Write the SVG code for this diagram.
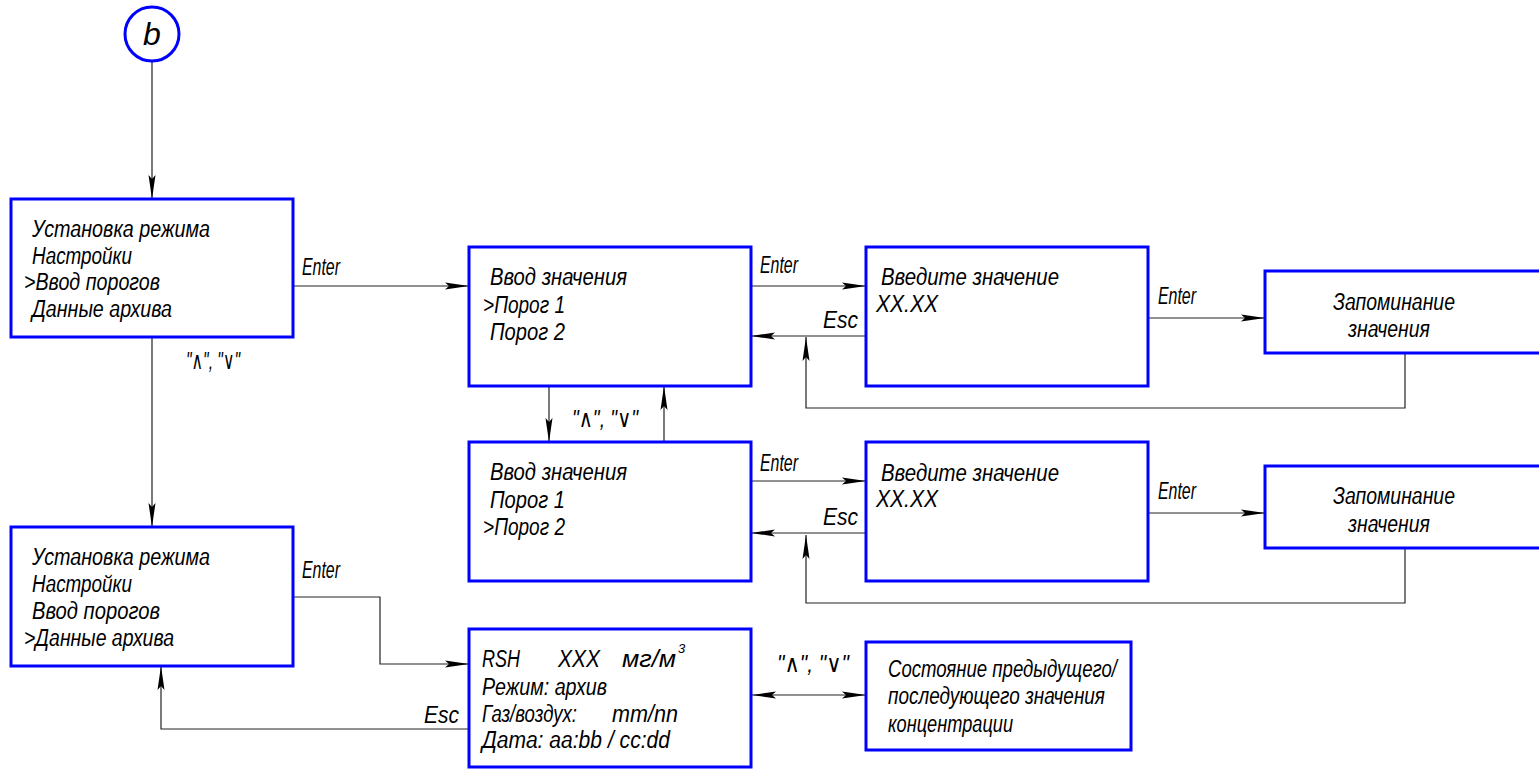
<svg xmlns="http://www.w3.org/2000/svg" width="1539" height="772" viewBox="0 0 1539 772">
<style>
.box{fill:#fff;stroke:#0000ff;stroke-width:3}
.ln{fill:none;stroke:#222;stroke-width:1.2}
.arr{marker-end:url(#ah)}
text{font-family:"Liberation Sans","DejaVu Sans",sans-serif;font-style:italic;font-size:23px;fill:#000}
.lbl{font-size:24px}
.mid{text-anchor:middle}
.end{text-anchor:end}
</style>
<defs>
<marker id="ah" markerUnits="userSpaceOnUse" markerWidth="26" markerHeight="10" viewBox="-26 -5 26 10" refX="0" refY="0" orient="auto-start-reverse">
<path d="M0,0 L-24,-3.5 L-20,0 L-24,3.5 Z" fill="#000"/>
</marker>
</defs>
<rect width="1539" height="772" fill="#fff"/>

<g id="connectors">
<path class="ln arr" d="M152,61 V199"/>
<path class="ln arr" d="M152,337 V527"/>
<text class="lbl" x="186" y="369" textLength="54" lengthAdjust="spacingAndGlyphs">"∧", "∨"</text>
<path class="ln arr" d="M293,286 H469"/>
<text class="lbl" x="302" y="275" textLength="38" lengthAdjust="spacingAndGlyphs">Enter</text>
<path class="ln arr" d="M751,286 H866"/>
<text class="lbl" x="760" y="273" textLength="38" lengthAdjust="spacingAndGlyphs">Enter</text>
<path class="ln arr" d="M866,336 H751"/>
<text class="lbl" x="823" y="328" textLength="35" lengthAdjust="spacingAndGlyphs">Esc</text>
<path class="ln arr" d="M1148,318 H1265"/>
<text class="lbl" x="1158" y="304" textLength="38" lengthAdjust="spacingAndGlyphs">Enter</text>
<path class="ln arr" d="M1405,353 V408 H806 V337"/>
<path class="ln arr" d="M549,386 V442"/>
<path class="ln arr" d="M664,442 V386"/>
<text class="lbl" x="572" y="427" textLength="66" lengthAdjust="spacingAndGlyphs">"∧", "∨"</text>
<path class="ln arr" d="M751,481 H866"/>
<text class="lbl" x="760" y="471" textLength="38" lengthAdjust="spacingAndGlyphs">Enter</text>
<path class="ln arr" d="M866,533 H751"/>
<text class="lbl" x="823" y="525" textLength="35" lengthAdjust="spacingAndGlyphs">Esc</text>
<path class="ln arr" d="M1148,513 H1265"/>
<text class="lbl" x="1158" y="499" textLength="38" lengthAdjust="spacingAndGlyphs">Enter</text>
<path class="ln arr" d="M1405,548 V603 H806 V535"/>
<path class="ln arr" d="M293,597 H380 V664 H469"/>
<text class="lbl" x="302" y="578" textLength="38" lengthAdjust="spacingAndGlyphs">Enter</text>
<path class="ln arr" d="M469,729 H161 V666"/>
<text class="lbl" x="424" y="723" textLength="35" lengthAdjust="spacingAndGlyphs">Esc</text>
<path class="ln" d="M752,695 H866" marker-start="url(#ah)" marker-end="url(#ah)"/>
<text class="lbl" x="777" y="672" textLength="72" lengthAdjust="spacingAndGlyphs">"∧", "∨"</text>
</g>

<g id="node-b">
<circle cx="152" cy="34" r="27" fill="#fff" stroke="#0000ff" stroke-width="3"/>
<text class="mid" x="152" y="45" style="font-size:32px">b</text>
</g>

<g id="node-menu1">
<rect class="box" x="11" y="199" width="282" height="138"/>
<text x="32" y="237" textLength="178" lengthAdjust="spacingAndGlyphs">Установка режима</text>
<text x="32" y="264" textLength="100" lengthAdjust="spacingAndGlyphs">Настройки</text>
<text x="24" y="290" textLength="136" lengthAdjust="spacingAndGlyphs">&gt;Ввод порогов</text>
<text x="32" y="317" textLength="140" lengthAdjust="spacingAndGlyphs">Данные архива</text>
</g>

<g id="node-menu2">
<rect class="box" x="11" y="527" width="282" height="139"/>
<text x="32" y="565" textLength="178" lengthAdjust="spacingAndGlyphs">Установка режима</text>
<text x="32" y="592" textLength="100" lengthAdjust="spacingAndGlyphs">Настройки</text>
<text x="32" y="619" textLength="128" lengthAdjust="spacingAndGlyphs">Ввод порогов</text>
<text x="24" y="646" textLength="150" lengthAdjust="spacingAndGlyphs">&gt;Данные архива</text>
</g>

<g id="node-input1">
<rect class="box" x="469" y="247" width="282" height="139"/>
<text x="490" y="285" textLength="137" lengthAdjust="spacingAndGlyphs">Ввод значения</text>
<text x="483" y="313" textLength="82" lengthAdjust="spacingAndGlyphs">&gt;Порог 1</text>
<text x="490" y="340" textLength="75" lengthAdjust="spacingAndGlyphs">Порог 2</text>
</g>

<g id="node-enter1">
<rect class="box" x="866" y="247" width="282" height="139"/>
<text x="881" y="285" textLength="178" lengthAdjust="spacingAndGlyphs">Введите значение</text>
<text x="876" y="312" textLength="62" lengthAdjust="spacingAndGlyphs">XX.XX</text>
</g>

<g id="node-save1">
<rect class="box" x="1265" y="271" width="285" height="82"/>
<text x="1333" y="310" textLength="122" lengthAdjust="spacingAndGlyphs">Запоминание</text>
<text x="1348" y="337" textLength="82" lengthAdjust="spacingAndGlyphs">значения</text>
</g>

<g id="node-input2">
<rect class="box" x="469" y="442" width="282" height="139"/>
<text x="490" y="480" textLength="137" lengthAdjust="spacingAndGlyphs">Ввод значения</text>
<text x="490" y="508" textLength="75" lengthAdjust="spacingAndGlyphs">Порог 1</text>
<text x="483" y="535" textLength="82" lengthAdjust="spacingAndGlyphs">&gt;Порог 2</text>
</g>

<g id="node-enter2">
<rect class="box" x="866" y="442" width="282" height="139"/>
<text x="881" y="481" textLength="178" lengthAdjust="spacingAndGlyphs">Введите значение</text>
<text x="876" y="507" textLength="62" lengthAdjust="spacingAndGlyphs">XX.XX</text>
</g>

<g id="node-save2">
<rect class="box" x="1265" y="466" width="285" height="82"/>
<text x="1333" y="504" textLength="122" lengthAdjust="spacingAndGlyphs">Запоминание</text>
<text x="1348" y="532" textLength="82" lengthAdjust="spacingAndGlyphs">значения</text>
</g>

<g id="node-archive">
<rect class="box" x="469" y="629" width="282" height="138"/>
<text x="482" y="667" textLength="38" lengthAdjust="spacingAndGlyphs">RSH</text>
<text x="558" y="667" textLength="42" lengthAdjust="spacingAndGlyphs">XXX</text>
<text x="622" y="667" textLength="54" lengthAdjust="spacingAndGlyphs">мг/м</text>
<text x="678" y="653" style="font-size:13px">3</text>
<text x="482" y="695" textLength="125" lengthAdjust="spacingAndGlyphs">Режим: архив</text>
<text x="482" y="722" textLength="95" lengthAdjust="spacingAndGlyphs">Газ/воздух:</text>
<text x="612" y="722" textLength="66" lengthAdjust="spacingAndGlyphs">mm/nn</text>
<text x="482" y="748" textLength="188" lengthAdjust="spacingAndGlyphs">Дата: aa:bb / cc:dd</text>
</g>

<g id="node-state">
<rect class="box" x="866" y="642" width="265" height="108"/>
<text x="888" y="677" textLength="229" lengthAdjust="spacingAndGlyphs">Состояние предыдущего/</text>
<text x="888" y="704" textLength="217" lengthAdjust="spacingAndGlyphs">последующего значения</text>
<text x="888" y="732" textLength="125" lengthAdjust="spacingAndGlyphs">концентрации</text>
</g>
</svg>
